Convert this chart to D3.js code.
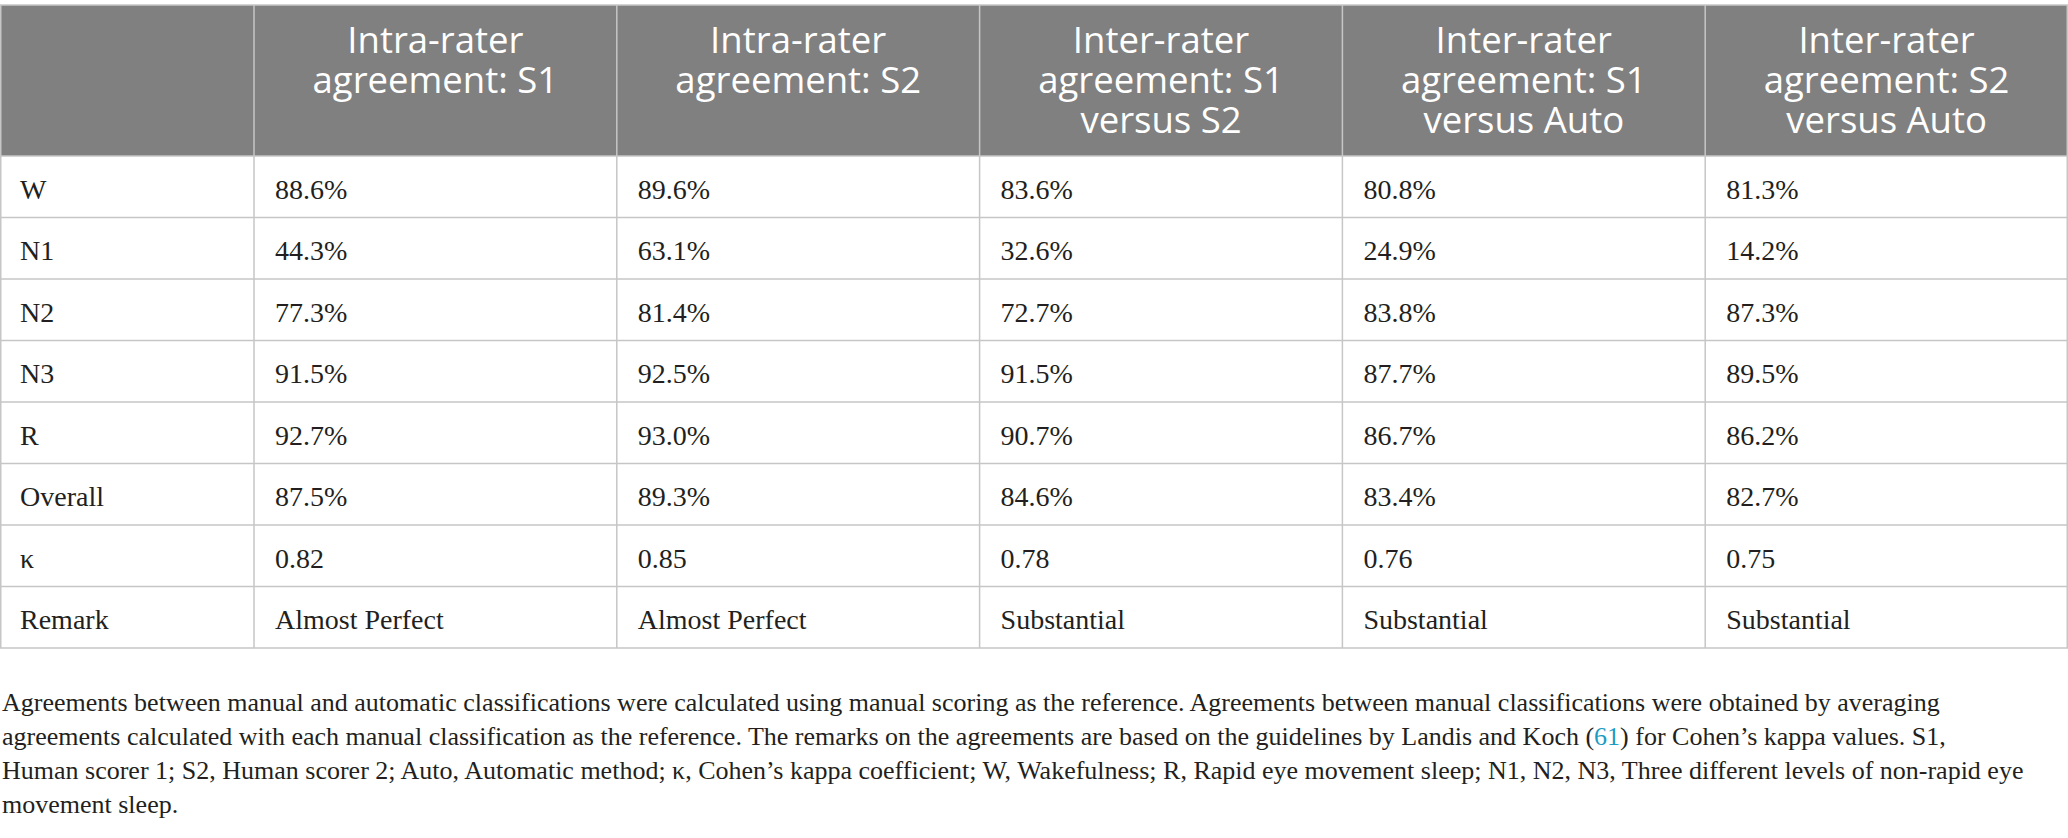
<!DOCTYPE html>
<html>
<head>
<meta charset="utf-8">
<script src="https://cdn.jsdelivr.net/npm/d3@7"></script>
<style>
  body { margin: 0; background: #fff; }
  svg { display: block; }
</style>
</head>
<body>
<div id="table"></div>
<script>
/* DATA */
const headers = [
  ["Intra-rater", "agreement: S1"],
  ["Intra-rater", "agreement: S2"],
  ["Inter-rater", "agreement: S1", "versus S2"],
  ["Inter-rater", "agreement: S1", "versus Auto"],
  ["Inter-rater", "agreement: S2", "versus Auto"]
];
const rowLabels = ["W", "N1", "N2", "N3", "R", "Overall", "κ", "Remark"];
const intraS1 = ["88.6%", "44.3%", "77.3%", "91.5%", "92.7%", "87.5%", "0.82", "Almost Perfect"];
const intraS2 = ["89.6%", "63.1%", "81.4%", "92.5%", "93.0%", "89.3%", "0.85", "Almost Perfect"];
const interS1S2 = ["83.6%", "32.6%", "72.7%", "91.5%", "90.7%", "84.6%", "0.78", "Substantial"];
const interS1Auto = ["80.8%", "24.9%", "83.8%", "87.7%", "86.7%", "83.4%", "0.76", "Substantial"];
const interS2Auto = ["81.3%", "14.2%", "87.3%", "89.5%", "86.2%", "82.7%", "0.75", "Substantial"];
const columns = [intraS1, intraS2, interS1S2, interS1Auto, interS2Auto];
const footnote = [
  ["Agreements between manual and automatic classifications were calculated using manual scoring as the reference. Agreements between manual classifications were obtained by averaging"],
  ["agreements calculated with each manual classification as the reference. The remarks on the agreements are based on the guidelines by Landis and Koch (", "61", ") for Cohen\u2019s kappa values. S1,"],
  ["Human scorer 1; S2, Human scorer 2; Auto, Automatic method; \u03ba, Cohen\u2019s kappa coefficient; W, Wakefulness; R, Rapid eye movement sleep; N1, N2, N3, Three different levels of non-rapid eye"],
  ["movement sleep."]
];

/* LAYOUT */
const width = 2068, height = 838;
const tableTop = 5, headerBottom = 156, tableBottom = 648, firstColW = 254;
const serif = "'Liberation Serif', 'DejaVu Serif', serif";
const sans = "'Open Sans', 'Noto Sans', sans-serif";
const gridColor = "#c6c6c6";
const headFirstBase = 52.5, headLine = 40;

const svg = d3.select("#table").append("svg")
  .attr("width", width).attr("height", height);

const xCol = d3.scaleBand()
  .domain(d3.range(columns.length))
  .range([firstColW, width]);

const yRow = d3.scaleBand()
  .domain(rowLabels)
  .range([headerBottom, tableBottom]);

// header background
svg.append("rect")
  .attr("x", 0).attr("y", tableTop)
  .attr("width", width).attr("height", headerBottom - tableTop)
  .attr("fill", "#7f807f");

// header text: top aligned, one text per line
svg.append("g").selectAll("g")
  .data(headers)
  .join("g")
  .attr("transform", (d, i) => `translate(${xCol(i) + xCol.bandwidth() / 2},0)`)
  .selectAll("text")
  .data(d => d)
  .join("text")
  .attr("y", (d, j) => headFirstBase + j * headLine)
  .attr("text-anchor", "middle")
  .attr("fill", "#fff")
  .attr("font-family", sans)
  .attr("font-size", 36.5)
  .text(d => d);

// grid lines
const grid = svg.append("g").attr("stroke-width", 1.5);

grid.selectAll(".hline")
  .data(rowLabels.slice(1))
  .join("line")
  .attr("class", "hline")
  .attr("x1", 0).attr("x2", width)
  .attr("y1", d => yRow(d)).attr("y2", d => yRow(d))
  .attr("stroke", gridColor);

grid.selectAll(".vline")
  .data(d3.range(columns.length))
  .join("line")
  .attr("class", "vline")
  .attr("x1", d => xCol(d)).attr("x2", d => xCol(d))
  .attr("y1", tableTop).attr("y2", tableBottom)
  .attr("stroke", gridColor);

grid.append("rect")
  .attr("x", 0.75).attr("y", tableTop)
  .attr("width", width - 1.5).attr("height", tableBottom - tableTop)
  .attr("fill", "none")
  .attr("stroke", gridColor);

grid.append("line")
  .attr("x1", 0).attr("x2", width)
  .attr("y1", headerBottom).attr("y2", headerBottom)
  .attr("stroke", gridColor);

// row labels
svg.append("g").selectAll("text")
  .data(rowLabels)
  .join("text")
  .attr("x", 20)
  .attr("y", d => yRow(d) + yRow.bandwidth() / 2)
  .attr("dy", "0.42em")
  .attr("font-family", serif)
  .attr("font-size", 28)
  .attr("fill", "#231f20")
  .text(d => d);

// cell values
svg.append("g").selectAll("g")
  .data(columns)
  .join("g")
  .attr("transform", (d, i) => `translate(${xCol(i) + 21},0)`)
  .selectAll("text")
  .data(d => d.map((v, r) => ({ v, r: rowLabels[r] })))
  .join("text")
  .attr("y", d => yRow(d.r) + yRow.bandwidth() / 2)
  .attr("dy", "0.42em")
  .attr("font-family", serif)
  .attr("font-size", 28)
  .attr("fill", "#231f20")
  .text(d => d.v);

// footnote
const note = svg.append("g").selectAll("text")
  .data(footnote)
  .join("text")
  .attr("x", 2)
  .attr("y", (d, i) => 711 + i * 34)
  .attr("font-family", serif)
  .attr("font-size", 26)
  .attr("fill", "#231f20");

note.selectAll("tspan")
  .data(d => d)
  .join("tspan")
  .attr("fill", (d, i) => i === 1 ? "#1a9cc4" : null)
  .text(d => d);
</script>
</body>
</html>
